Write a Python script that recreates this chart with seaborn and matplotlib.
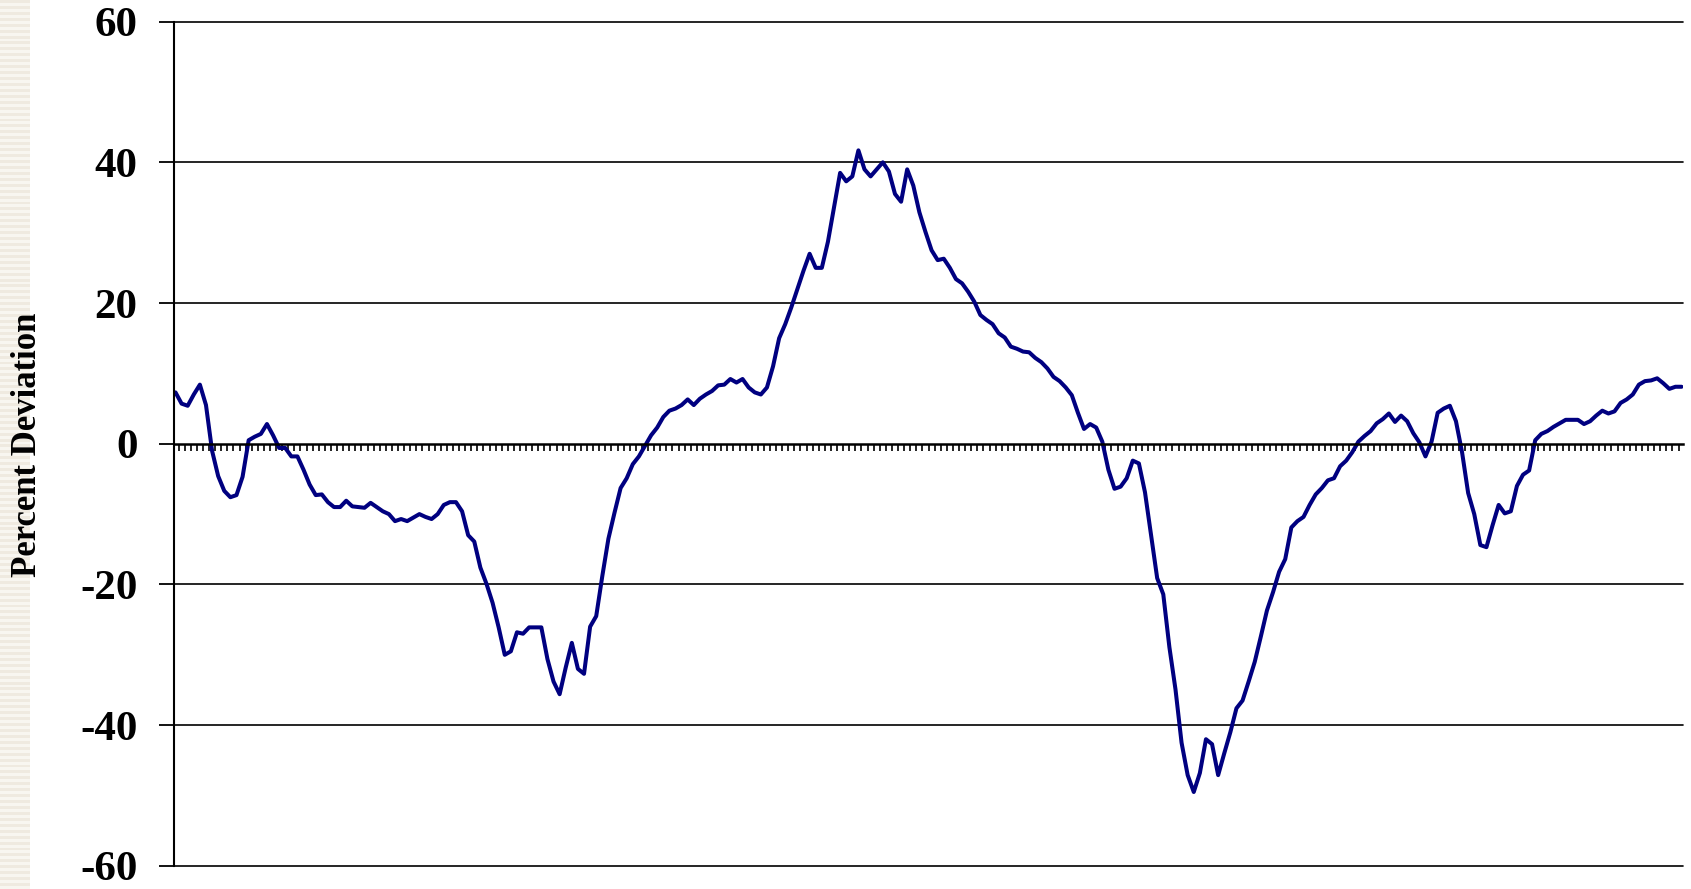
import matplotlib
matplotlib.use('Agg')
import matplotlib.pyplot as plt
import numpy as np
import pandas as pd
import seaborn as sns

# Percent deviation, one value per period
deviation = [
    7.3, 5.7, 5.4, 7.0, 8.4, 5.5, -1.0, -4.6, -6.7, -7.6,
    -7.3, -4.7, 0.5, 1.0, 1.4, 2.8, 1.2, -0.6, -0.6, -1.8,
    -1.8, -3.7, -5.8, -7.3, -7.2, -8.3, -9.0, -9.0, -8.1, -8.9,
    -9.0, -9.1, -8.4, -9.0, -9.6, -10.0, -11.0, -10.7, -11.0, -10.5,
    -10.0, -10.4, -10.7, -10.0, -8.7, -8.3, -8.3, -9.6, -13.0, -13.9,
    -17.6, -19.9, -22.6, -26.1, -30.0, -29.5, -26.8, -27.0, -26.1, -26.1,
    -26.1, -30.6, -33.8, -35.6, -31.8, -28.3, -32.0, -32.7, -26.0, -24.5,
    -18.8, -13.5, -9.8, -6.3, -4.9, -2.9, -1.8, -0.3, 1.2, 2.3,
    3.8, 4.7, 5.0, 5.5, 6.3, 5.5, 6.4, 7.0, 7.5, 8.3,
    8.4, 9.2, 8.7, 9.2, 8.0, 7.3, 7.0, 8.0, 11.0, 15.0,
    17.0, 19.4, 22.0, 24.6, 27.0, 25.0, 25.0, 28.7, 33.6, 38.5,
    37.3, 38.0, 41.7, 39.0, 38.0, 39.0, 40.0, 38.7, 35.5, 34.4,
    39.0, 36.7, 32.9, 30.1, 27.5, 26.1, 26.3, 25.0, 23.4, 22.8,
    21.6, 20.2, 18.3, 17.6, 17.0, 15.7, 15.1, 13.8, 13.5, 13.1,
    13.0, 12.2, 11.6, 10.7, 9.5, 8.9, 8.0, 6.9, 4.4, 2.1,
    2.8, 2.3, 0.3, -3.7, -6.4, -6.1, -4.9, -2.4, -2.8, -6.9,
    -13.0, -19.1, -21.4, -28.9, -34.9, -42.5, -47.1, -49.5, -46.8, -42.0,
    -42.7, -47.1, -44.0, -41.0, -37.6, -36.5, -33.8, -31.0, -27.4, -23.7,
    -21.1, -18.2, -16.4, -11.9, -11.0, -10.4, -8.7, -7.2, -6.3, -5.2,
    -4.9, -3.2, -2.4, -1.2, 0.3, 1.1, 1.8, 2.9, 3.5, 4.3,
    3.1, 4.0, 3.2, 1.5, 0.2, -1.8, 0.3, 4.4, 5.0, 5.4,
    3.2, -1.2, -7.0, -10.0, -14.4, -14.7, -11.6, -8.7, -9.9, -9.6,
    -6.0, -4.4, -3.8, 0.5, 1.4, 1.8, 2.4, 2.9, 3.4, 3.4,
    3.4, 2.8, 3.2, 4.0, 4.7, 4.3, 4.6, 5.8, 6.3, 7.0,
    8.4, 8.9, 9.0, 9.3, 8.6, 7.8, 8.1, 8.1,
]
y_ticks = [-60, -40, -20, 0, 20, 40, 60]
y_label = 'Percent Deviation'

df = pd.DataFrame({'period': np.arange(len(deviation)), 'value': deviation})
n = len(df)

sns.set_style('white')
plt.rcParams['font.family'] = ['Liberation Serif', 'DejaVu Serif']
plt.rcParams['font.weight'] = 'bold'
plt.rcParams['text.color'] = 'black'
plt.rcParams['ytick.labelcolor'] = 'black'

fig = plt.figure(figsize=(16.91, 8.89), dpi=100)

# striped beige band on the left edge
band = fig.add_axes([0, 0, 30 / 1691, 1])
rows = np.array([[0.94, 0.92, 0.88], [0.975, 0.965, 0.945]])
stripes = np.tile(rows, (150, 1)).reshape(300, 1, 3)
band.imshow(stripes, aspect='auto', interpolation='nearest')
band.axis('off')

ax = fig.add_axes([0.1027, 0.026, 0.8928, 0.9497])

sns.lineplot(data=df, x='period', y='value', ax=ax, color='#000080',
             linewidth=2.9, legend=False)

ax.set_xlim(-0.3, n - 0.7)
ax.set_ylim(-60, 60)
ax.set_yticks(y_ticks)
ax.set_yticklabels([str(v) for v in y_ticks], fontsize=31,
                   fontweight='bold', color='black')
ax.tick_params(axis='y', direction='out', length=11, width=1.3,
               color='black', pad=15, left=True)

# category ticks hanging below the zero line
ax.spines['bottom'].set_position(('data', 0))
ax.spines['bottom'].set_linewidth(1.8)
ax.spines['bottom'].set_color('black')
ax.set_xticks(np.arange(n - 1) + 0.5)
ax.set_xticklabels([])
ax.tick_params(axis='x', direction='out', length=5, width=1.2,
               color='black', bottom=True)

for v in y_ticks:
    if v != 0:
        ax.axhline(v, color='black', linewidth=1.2, clip_on=False, zorder=1)

ax.spines['left'].set_linewidth(1.5)
ax.spines['left'].set_color('black')
ax.spines['top'].set_visible(False)
ax.spines['right'].set_visible(False)
ax.set_xlabel('')
ax.set_ylabel('')

fig.text(0.016, 0.50, y_label, rotation=90, ha='center', va='center',
         fontsize=25, fontweight='bold', color='black')

fig.savefig('out.png', dpi=100)
